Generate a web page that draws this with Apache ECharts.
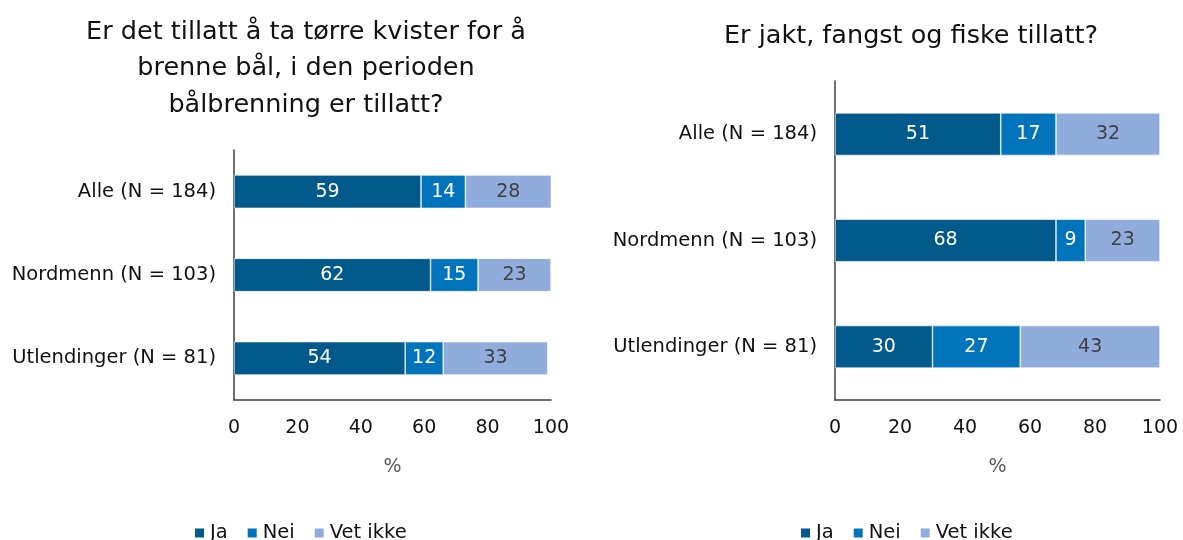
<!DOCTYPE html>
<html>
<head>
<meta charset="utf-8">
<script src="https://cdn.jsdelivr.net/npm/echarts@6/dist/echarts.min.js"></script>
<style>
  html, body { margin: 0; padding: 0; background: #ffffff; }
  #chart { width: 1183px; height: 540px; }
</style>
</head>
<body>
<div id="chart"></div>
<script>
// Survey answers, percent of respondents per group
const groups = ['Alle (N = 184)', 'Nordmenn (N = 103)', 'Utlendinger (N = 81)'];
const answers = ['Ja', 'Nei', 'Vet ikke'];
const xTicks = [0, 20, 40, 60, 80, 100];

// Question 1: dry twigs for bonfires
const titleLeft = 'Er det tillatt å ta tørre kvister for å\nbrenne bål, i den perioden\nbålbrenning er tillatt?';
const leftJa = [59, 62, 54];
const leftNei = [14, 15, 12];
const leftVetIkke = [28, 23, 33];

// Question 2: hunting, trapping and fishing
const titleRight = 'Er jakt, fangst og fiske tillatt?';
const rightJa = [51, 68, 30];
const rightNei = [17, 9, 27];
const rightVetIkke = [32, 23, 43];

const FONT = 'DejaVu Sans';
const colors = ['#02598C', '#0274BC', '#8FACDC'];
const labelColors = ['#ffffff', '#ffffff', '#404040'];

function axisPair(gridIndex) {
  return {
    x: {
      type: 'value', gridIndex, min: 0, max: 100, interval: 20,
      name: '%', nameLocation: 'middle', nameGap: 58,
      nameTextStyle: { fontFamily: FONT, fontSize: 19, color: '#595959' },
      axisLine: { show: true, lineStyle: { color: '#404040', width: 1.5 } },
      axisTick: { show: false },
      splitLine: { show: false },
      axisLabel: { fontFamily: FONT, fontSize: 19, color: '#111', margin: 19,
                   formatter: v => xTicks.includes(v) ? String(v) : '' }
    },
    y: {
      type: 'category', gridIndex, data: groups, inverse: true,
      axisLine: { show: true, lineStyle: { color: '#404040', width: 1.5 } },
      axisTick: { show: false },
      axisLabel: { fontFamily: FONT, fontSize: 19.5, color: '#111', margin: 18 }
    }
  };
}

function stackSeries(idx, values) {
  return values.map((vals, i) => ({
    name: answers[i],
    type: 'bar',
    stack: 'q' + idx,
    xAxisIndex: idx, yAxisIndex: idx,
    barWidth: '40%',
    data: vals,
    itemStyle: { color: colors[i], borderColor: '#ffffff', borderWidth: 0.6 },
    label: { show: true, position: 'inside', fontFamily: FONT, fontSize: 19,
             color: labelColors[i] },
    emphasis: { disabled: true }
  }));
}

const L = axisPair(0), R = axisPair(1);

const legendText = { fontFamily: FONT, fontSize: 19.5, color: '#111' };

const option = {
  animation: false,
  backgroundColor: '#ffffff',
  title: [
    { text: titleLeft, left: 301, top: 9, textAlign: 'center',
      textStyle: { fontFamily: FONT, fontSize: 25.5, fontWeight: 'normal', color: '#111', lineHeight: 36.5 } },
    { text: titleRight, left: 906, top: 13, textAlign: 'center',
      textStyle: { fontFamily: FONT, fontSize: 25.5, fontWeight: 'normal', color: '#111', lineHeight: 36.5 } }
  ],
  legend: [
    { data: answers, left: 188, top: 518, itemWidth: 11, itemHeight: 11, itemGap: 18,
      icon: 'rect', textStyle: legendText },
    { data: answers, left: 794, top: 518, itemWidth: 11, itemHeight: 11, itemGap: 18,
      icon: 'rect', textStyle: legendText }
  ],
  grid: [
    { left: 234, right: 632, top: 150, bottom: 140 },
    { left: 835, right: 23, top: 81, bottom: 140 }
  ],
  xAxis: [L.x, R.x],
  yAxis: [L.y, R.y],
  series: [
    ...stackSeries(0, [leftJa, leftNei, leftVetIkke]),
    ...stackSeries(1, [rightJa, rightNei, rightVetIkke])
  ]
};

echarts.init(document.getElementById('chart'), null, { renderer: 'canvas' }).setOption(option);
</script>
</body>
</html>
